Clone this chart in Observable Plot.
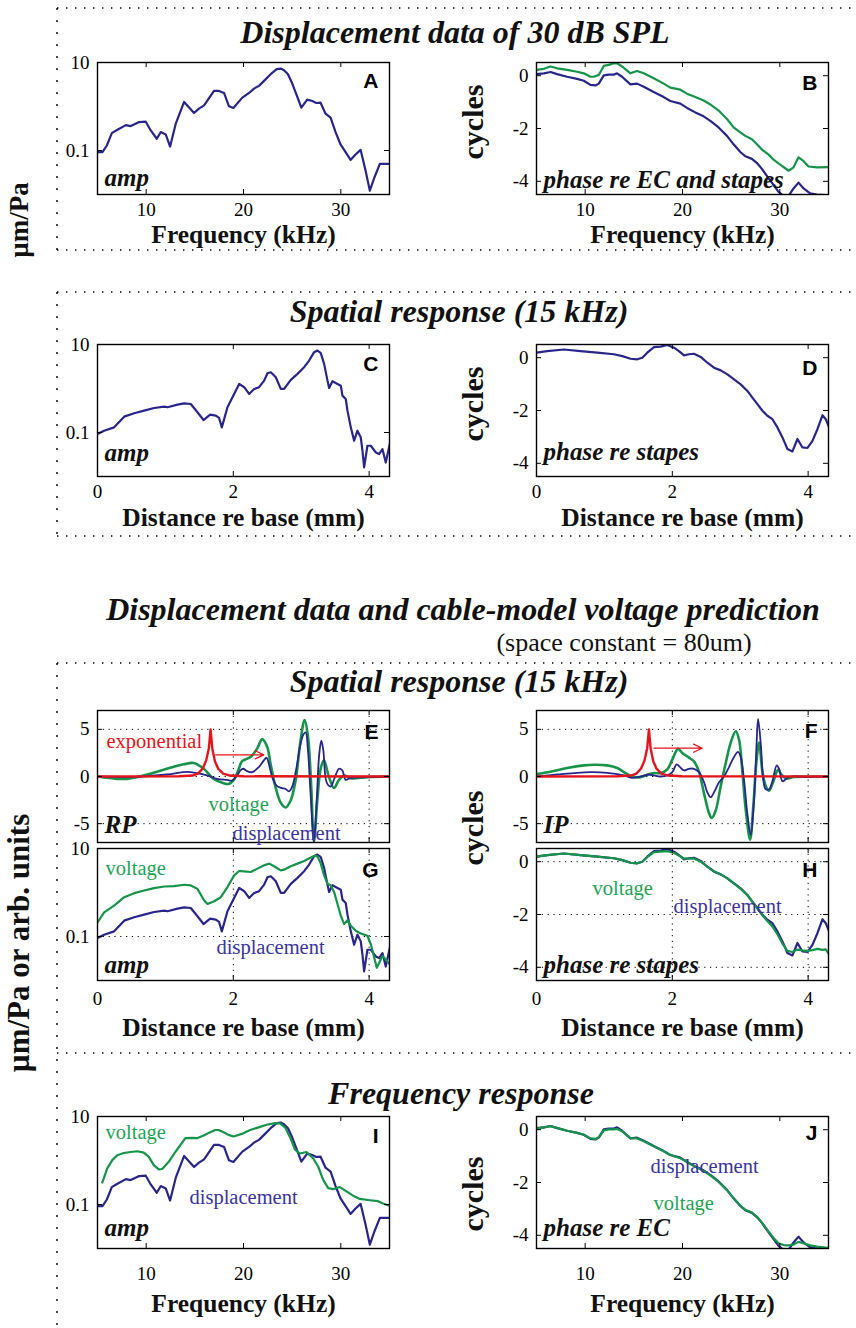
<!DOCTYPE html>
<html>
<head>
<meta charset="utf-8">
<script src="https://cdn.jsdelivr.net/npm/d3@7"></script>
<script src="https://cdn.jsdelivr.net/npm/@observablehq/plot@0.6"></script>
<style>
  html, body { margin: 0; padding: 0; background: #fff; }
  #fig { position: relative; width: 856px; height: 1328px; overflow: hidden; background: #fff; }
</style>
</head>
<body>
<div id="fig"></div>
<script>
// ---------- tick values ----------
const freqTicks = [10, 20, 30];
const distTicks = [0, 2, 4];
const ampTicks = [0.1, 10];
const phaseTicks = [0, -2, -4];
const waveTicks = [5, 0, -5];

// ---------- frequency response (kHz, um/Pa) ----------
const ampFreqDisp = [[5.0,0.092],[5.51,0.092],[5.96,0.130],[6.47,0.248],[7.05,0.296],[7.91,0.378],[8.42,0.359],[9.28,0.443],[9.96,0.451],[10.47,0.286],[11.09,0.185],[11.5,0.262],[12.01,0.232],[12.46,0.123],[13.04,0.406],[13.9,1.27],[14.92,0.711],[15.43,0.893],[15.95,1.06],[16.97,2.26],[17.49,2.26],[18.0,2.03],[18.51,1.01],[18.96,0.925],[19.88,1.59],[20.57,2.03],[21.08,2.55],[21.59,2.94],[22.11,3.82],[22.79,5.42],[23.41,7.05],[23.82,7.29],[24.16,6.68],[24.57,5.42],[25.01,3.32],[25.53,1.65],[25.94,0.94],[26.55,1.43],[27.07,1.33],[27.48,1.20],[27.92,1.22],[28.43,0.687],[28.95,0.556],[29.46,0.262],[29.97,0.137],[30.49,0.092],[31.0,0.0612],[31.51,0.0811],[32.03,0.1035],[32.54,0.035],[32.98,0.0122],[33.46,0.0247],[34.01,0.0497],[35.0,0.0497]];
const ampFreqVolt = [[5.49,0.316],[6.0,0.662],[6.52,1.02],[7.03,1.32],[7.71,1.48],[8.40,1.56],[9.08,1.62],[9.76,1.51],[10.27,1.21],[10.78,0.787],[11.30,0.629],[11.64,0.640],[12.32,0.933],[13.0,1.56],[14.03,3.21],[14.71,3.27],[15.22,3.21],[15.9,3.69],[16.42,4.24],[17.1,4.94],[17.44,4.94],[17.95,4.38],[18.46,3.82],[18.98,3.51],[19.83,4.02],[20.68,4.94],[21.54,5.67],[22.39,6.50],[23.24,7.09],[23.75,6.97],[24.27,5.67],[24.78,3.39],[25.29,1.76],[25.8,1.44],[26.48,1.56],[27.17,1.11],[27.68,0.721],[28.19,0.363],[28.7,0.236],[29.22,0.224],[29.9,0.249],[30.58,0.199],[31.26,0.159],[31.95,0.134],[32.97,0.125],[33.82,0.119],[34.33,0.105],[34.91,0.095]];

// phase (cycles) re ear canal, re stapes, and model voltage re ear canal
const phaseFreqEC = [[5.0,0.06],[5.75,0.09],[6.44,0.14],[7.12,0.06],[8.15,-0.04],[9.17,-0.12],[9.86,-0.19],[10.54,-0.35],[11.06,-0.37],[11.40,-0.3],[11.91,0.01],[12.42,0.04],[12.94,0.04],[13.28,0.09],[13.79,-0.04],[14.65,-0.33],[15.33,-0.3],[16.02,-0.42],[17.04,-0.62],[18.07,-0.81],[18.75,-0.96],[19.78,-1.06],[20.46,-1.22],[21.32,-1.39],[22.17,-1.54],[22.86,-1.71],[23.71,-1.96],[24.57,-2.28],[25.25,-2.6],[25.94,-2.89],[26.45,-3.05],[27.13,-3.15],[27.65,-3.31],[28.16,-3.53],[28.85,-3.89],[29.36,-4.14],[29.87,-4.4],[30.38,-4.55],[30.9,-4.55],[31.41,-4.27],[31.92,-4.05],[32.44,-4.27],[33.12,-4.46],[33.81,-4.5],[35.0,-4.53]];
const phaseFreqStapes = [[5.0,0.22],[5.75,0.26],[6.44,0.35],[7.12,0.28],[8.15,0.22],[9.17,0.15],[9.86,0.09],[10.54,-0.04],[10.88,-0.04],[11.4,0.03],[11.91,0.37],[12.42,0.41],[12.94,0.47],[13.28,0.47],[13.79,0.35],[14.65,0.09],[15.33,0.18],[16.02,0.09],[17.04,-0.1],[18.07,-0.3],[18.75,-0.45],[19.78,-0.53],[20.46,-0.68],[21.32,-0.81],[22.17,-0.94],[22.86,-1.09],[23.71,-1.32],[24.57,-1.64],[25.25,-1.96],[25.94,-2.15],[26.45,-2.28],[27.13,-2.41],[27.65,-2.6],[28.16,-2.8],[28.85,-2.99],[29.36,-3.18],[30.04,-3.37],[30.9,-3.6],[31.41,-3.47],[31.92,-3.09],[32.44,-3.24],[32.95,-3.44],[33.81,-3.47],[35.0,-3.46]];
const phaseFreqVolt = [[5.0,0.04],[5.75,0.09],[6.44,0.13],[7.12,0.07],[8.15,-0.04],[9.17,-0.12],[9.86,-0.19],[10.54,-0.33],[11.06,-0.35],[11.40,-0.28],[11.91,-0.03],[12.42,0.01],[12.94,0.01],[13.28,0.03],[13.79,-0.06],[14.65,-0.32],[15.33,-0.33],[16.02,-0.44],[17.04,-0.63],[18.07,-0.82],[18.75,-0.96],[19.78,-1.08],[20.46,-1.23],[21.32,-1.4],[22.17,-1.56],[22.86,-1.73],[23.71,-1.98],[24.57,-2.29],[25.25,-2.6],[25.94,-2.87],[26.45,-3.03],[27.13,-3.14],[27.65,-3.3],[28.16,-3.52],[28.85,-3.86],[29.36,-4.1],[29.87,-4.3],[30.38,-4.37],[30.9,-4.38],[31.41,-4.35],[31.92,-4.25],[32.44,-4.3],[33.12,-4.38],[33.81,-4.43],[35.0,-4.48]];

// ---------- spatial response at 15 kHz (mm re base) ----------
const ampDistDisp = [[0,0.092],[0.098,0.110],[0.245,0.131],[0.393,0.229],[0.540,0.273],[0.687,0.314],[0.834,0.361],[0.982,0.387],[1.031,0.374],[1.178,0.430],[1.276,0.461],[1.374,0.445],[1.472,0.288],[1.561,0.192],[1.659,0.254],[1.742,0.241],[1.791,0.214],[1.831,0.131],[1.914,0.374],[2.012,0.752],[2.086,1.27],[2.160,1.07],[2.233,0.752],[2.307,0.977],[2.380,1.07],[2.454,1.51],[2.503,2.22],[2.552,2.34],[2.626,1.80],[2.699,0.977],[2.748,0.977],[2.847,1.57],[2.945,2.15],[3.043,3.05],[3.117,4.32],[3.190,6.69],[3.239,7.30],[3.288,6.35],[3.337,3.63],[3.387,1.51],[3.411,1.03],[3.460,1.46],[3.534,1.27],[3.583,1.16],[3.607,0.689],[3.656,0.578],[3.681,0.314],[3.730,0.131],[3.779,0.065],[3.828,0.110],[3.877,0.0775],[3.902,0.0385],[3.926,0.0161],[3.975,0.050],[4.025,0.050],[4.098,0.0352],[4.147,0.0323],[4.196,0.042],[4.245,0.0208],[4.304,0.0546]];
const ampDistVolt = [[0,0.209],[0.098,0.355],[0.245,0.504],[0.393,0.782],[0.540,0.966],[0.687,1.11],[0.834,1.26],[0.982,1.37],[1.129,1.40],[1.276,1.50],[1.374,1.45],[1.472,1.21],[1.571,0.656],[1.620,0.550],[1.718,0.633],[1.816,0.782],[1.914,1.33],[2.012,2.45],[2.086,3.08],[2.160,3.03],[2.258,2.92],[2.356,3.49],[2.454,4.15],[2.528,4.53],[2.601,3.94],[2.699,3.19],[2.748,3.30],[2.847,3.94],[2.945,4.53],[3.043,5.22],[3.141,6.22],[3.190,6.79],[3.239,6.67],[3.288,4.53],[3.337,2.45],[3.387,1.58],[3.436,1.45],[3.485,1.02],[3.534,0.550],[3.583,0.297],[3.632,0.191],[3.681,0.236],[3.730,0.175],[3.804,0.135],[3.877,0.117],[3.975,0.104],[4.025,0.0667],[4.113,0.0195],[4.196,0.0360],[4.245,0.0303],[4.304,0.0232]];
const phaseDistDisp = [[0,0.19],[0.157,0.25],[0.403,0.31],[0.649,0.25],[0.894,0.19],[1.140,0.13],[1.263,0.06],[1.386,-0.04],[1.484,-0.06],[1.558,0.0],[1.631,0.19],[1.730,0.40],[1.828,0.42],[1.926,0.48],[2.025,0.38],[2.098,0.25],[2.172,0.09],[2.246,0.13],[2.319,0.15],[2.418,0.03],[2.516,-0.19],[2.614,-0.38],[2.713,-0.48],[2.811,-0.63],[2.909,-0.82],[3.007,-1.01],[3.106,-1.26],[3.179,-1.51],[3.253,-1.76],[3.327,-2.01],[3.400,-2.20],[3.474,-2.33],[3.548,-2.64],[3.622,-3.02],[3.695,-3.46],[3.769,-3.55],[3.843,-3.08],[3.916,-3.40],[3.990,-3.42],[4.064,-3.15],[4.138,-2.70],[4.211,-2.18],[4.260,-2.33],[4.310,-2.64]];
const phaseDistVolt = [[0,0.19],[0.157,0.25],[0.403,0.31],[0.649,0.25],[0.894,0.19],[1.14,0.13],[1.263,0.06],[1.386,-0.04],[1.484,-0.06],[1.558,0.0],[1.631,0.17],[1.73,0.36],[1.828,0.38],[1.926,0.40],[2.025,0.33],[2.098,0.23],[2.172,0.12],[2.246,0.12],[2.319,0.12],[2.418,0.0],[2.516,-0.19],[2.614,-0.36],[2.713,-0.48],[2.811,-0.63],[2.909,-0.83],[3.007,-1.03],[3.106,-1.27],[3.179,-1.52],[3.253,-1.77],[3.327,-2.03],[3.40,-2.25],[3.474,-2.45],[3.548,-2.75],[3.622,-3.1],[3.695,-3.38],[3.769,-3.42],[3.843,-3.33],[3.916,-3.36],[3.99,-3.38],[4.064,-3.35],[4.138,-3.30],[4.211,-3.34],[4.26,-3.32],[4.31,-3.52]];

// real part (RP) and imaginary part (IP) of the spatial pattern, arb. units
const rpDisp = [[0,0],[0.531,-0.04],[1.023,0.21],[1.318,0.5],[1.466,0.36],[1.613,0.11],[1.761,-0.25],[1.908,-0.36],[1.982,-0.43],[2.056,0.11],[2.105,0.64],[2.145,0.82],[2.204,0.57],[2.277,0.46],[2.376,1.0],[2.450,1.71],[2.489,2.0],[2.523,1.36],[2.573,-0.07],[2.636,-0.96],[2.705,-1.21],[2.769,-1.32],[2.818,-1.57],[2.868,-1.07],[2.932,1.0],[2.981,3.14],[3.030,4.43],[3.065,4.68],[3.099,2.79],[3.138,-1.86],[3.187,-6.9],[3.227,-2.57],[3.266,2.43],[3.296,3.79],[3.325,2.79],[3.374,-0.61],[3.433,-1.07],[3.492,-0.14],[3.556,0.82],[3.605,0.64],[3.655,-0.36],[3.728,-0.14],[3.974,-0.07],[4.304,0]];
const rpVolt = [[0,0],[0.285,-0.25],[0.433,-0.25],[0.580,-0.07],[0.777,0.29],[1.023,0.82],[1.269,1.29],[1.417,1.43],[1.564,0.82],[1.712,-0.25],[1.859,-0.71],[1.933,-0.79],[2.007,-0.36],[2.081,0.82],[2.130,1.64],[2.253,2.07],[2.351,2.96],[2.425,3.96],[2.499,3.14],[2.548,1.36],[2.622,-1.14],[2.696,-2.75],[2.769,-3.29],[2.843,-2.57],[2.917,-0.43],[2.991,3.86],[3.050,6.0],[3.099,4.29],[3.148,-1.14],[3.187,-6.9],[3.237,-2.57],[3.286,0.82],[3.335,1.71],[3.409,-0.07],[3.483,-1.21],[3.556,-0.36],[3.630,0.11],[3.728,-0.18],[3.974,-0.07],[4.304,0]];
const rpExp = [[0,0],[1.2,0.02],[1.4,0.1],[1.48,0.3],[1.55,0.85],[1.6,1.7],[1.64,3.0],[1.665,5.0],[1.69,3.0],[1.73,1.6],[1.78,0.8],[1.85,0.3],[1.95,0.1],[2.15,0.02],[4.3,0]];
const ipDisp = [[0,0],[0.305,0.21],[0.550,0.36],[0.796,0.46],[1.042,0.39],[1.287,0.11],[1.410,-0.14],[1.533,0.0],[1.656,0.21],[1.730,0.11],[1.828,0.0],[1.926,0.11],[2.0,0.46],[2.064,1.29],[2.113,1.0],[2.172,0.64],[2.246,0.82],[2.319,0.82],[2.393,0.46],[2.467,-0.61],[2.516,-1.68],[2.565,-2.21],[2.614,-1.68],[2.688,-0.61],[2.762,0.0],[2.835,1.0],[2.909,2.07],[2.968,2.61],[3.007,2.07],[3.057,-0.43],[3.106,-4.0],[3.155,-6.2],[3.204,-2.5],[3.238,3.0],[3.263,6.1],[3.302,3.5],[3.342,-0.5],[3.376,-1.36],[3.425,-1.36],[3.474,-0.5],[3.538,1.18],[3.573,0.8],[3.622,-0.5],[3.671,-0.3],[3.744,0.0],[3.990,-0.05],[4.310,0.0]];
const ipVolt = [[0,0.25],[0.206,0.5],[0.452,0.9],[0.698,1.18],[0.845,1.25],[1.042,1.18],[1.189,0.9],[1.312,0.36],[1.410,0.0],[1.533,-0.07],[1.631,0.18],[1.730,0.36],[1.828,0.36],[1.926,0.75],[2.0,1.8],[2.084,2.93],[2.147,2.5],[2.246,2.0],[2.319,1.6],[2.393,0.5],[2.467,-1.8],[2.541,-3.9],[2.580,-4.4],[2.639,-3.6],[2.713,-1.0],[2.786,1.4],[2.860,3.6],[2.934,4.8],[2.983,3.9],[3.032,0.5],[3.081,-3.5],[3.145,-6.7],[3.194,-3.0],[3.238,1.5],[3.278,3.6],[3.327,0.5],[3.376,-1.0],[3.425,-1.5],[3.489,-0.5],[3.558,0.7],[3.607,0.2],[3.671,-0.2],[3.794,-0.05],[4.310,0.0]];
const ipExp = [[0,0],[1.19,0.02],[1.39,0.1],[1.47,0.3],[1.54,0.85],[1.59,1.7],[1.63,3.0],[1.656,5.0],[1.68,3.0],[1.72,1.6],[1.77,0.8],[1.84,0.3],[1.94,0.1],[2.14,0.02],[4.3,0]];

// travel direction of the exponential, drawn as arrows
const arrowRP = [{x1: 1.74, x2: 2.45, y: 2.3}];
const arrowIP = [{x1: 1.73, x2: 2.44, y: 3.0}];

// ---------- text ----------
const titles = ["Displacement data of 30 dB SPL", "Spatial response (15 kHz)", "Displacement data and cable-model voltage prediction", "(space constant = 80um)", "Spatial response (15 kHz)", "Frequency response"];
const yTitles = ["\u00b5m/Pa", "\u00b5m/Pa or arb. units", "cycles"];
const xTitles = ["Frequency (kHz)", "Distance re base (mm)"];

// ---------- styling ----------
const BLUE = "#29268a", GREEN = "#15944a", RED = "#e3141b";
const BLUE_T = "#3a349e", GREEN_T = "#1fa355";
const SERIF = "Liberation Serif, Times New Roman, serif";
const SANS = "Liberation Sans, Arial, sans-serif";
const FW = 292, FH = 132;                       // frame size of every panel
const M = {l: 80, r: 14, t: 14, b: 80};          // room around each frame

const fig = document.getElementById("fig");

function panel(o) {
  const marks = [];
  if (o.grid) {
    marks.push(Plot.ruleX(o.gridX, {x: d => d, stroke: "#000", strokeWidth: 1, strokeDasharray: "1.2,4.6"}));
    marks.push(Plot.ruleY(o.gridY, {y: d => d, stroke: "#000", strokeWidth: 1, strokeDasharray: "1.2,4.6"}));
  }
  for (const s of o.series) {
    marks.push(Plot.line(s.data, {x: d => d[0], y: d => d[1], stroke: s.color, strokeWidth: s.width || 2.2,
      curve: s.curve || "linear", clip: true, strokeLinejoin: "round"}));
  }
  if (o.arrows) {
    marks.push(Plot.arrow(o.arrows, {x1: "x1", x2: "x2", y1: "y", y2: "y", stroke: RED, strokeWidth: 1.3, headLength: 11, headAngle: 50}));
  }
  marks.push(Plot.frame({stroke: "#000", strokeWidth: 1.4}));
  // inward tick marks on all four sides
  marks.push(
    Plot.tickX(o.xTicks, {x: d => d, insetBottom: FH - 5, stroke: "#000"}),
    Plot.tickX(o.xTicks, {x: d => d, insetTop: FH - 5, stroke: "#000"}),
    Plot.tickY(o.yTicks, {y: d => d, insetRight: FW - 5, stroke: "#000"}),
    Plot.tickY(o.yTicks, {y: d => d, insetLeft: FW - 5, stroke: "#000"})
  );
  if (o.xLabels) {
    marks.push(Plot.axisX(o.xTicks, {tickSize: 0, tickPadding: o.xPad, tickFormat: d => String(d), label: null,
      fontSize: 19, fontFamily: SERIF}));
  }
  marks.push(Plot.axisY(o.yTicks, {tickSize: 0, tickPadding: 8, tickFormat: d => String(d), label: null,
    fontSize: 19, fontFamily: SERIF}));
  // panel letter
  marks.push(Plot.text([o.letter], {text: d => d, frameAnchor: "top-right", dx: -11, dy: o.letterDy,
    textAnchor: "end", lineAnchor: "bottom", fontFamily: SANS, fontWeight: "bold", fontSize: 21, fill: "#000"}));
  // corner tag
  marks.push(Plot.text([o.tag], {text: d => d, frameAnchor: "bottom-left", dx: 7, dy: -o.tagDy,
    textAnchor: "start", lineAnchor: "bottom", fontFamily: SERIF, fontWeight: "bold", fontStyle: "italic", fontSize: 25, fill: "#111"}));
  // series labels
  for (const l of (o.labels || [])) {
    marks.push(Plot.text([l.text], {text: d => d, frameAnchor: "top-left", dx: l.dx, dy: l.dy,
      textAnchor: "start", lineAnchor: "bottom", fontFamily: SERIF, fontSize: 20.5, fill: l.color}));
  }
  if (o.xTitle) {
    marks.push(Plot.text([o.xTitle], {text: d => d, frameAnchor: "bottom", dy: o.xTitleDy, lineAnchor: "bottom",
      fontFamily: SERIF, fontWeight: "bold", fontSize: 25.5, fill: "#111"}));
  }
  const svg = Plot.plot({
    width: FW + M.l + M.r, height: FH + M.t + M.b,
    marginLeft: M.l, marginRight: M.r, marginTop: M.t, marginBottom: M.b,
    x: {domain: o.xDomain, ...(o.xLabels ? {} : {axis: null})},
    y: {type: o.yType || "linear", domain: o.yDomain},
    style: {fontFamily: SERIF, fontSize: "19px", color: "#000", background: "transparent", overflow: "visible"},
    marks
  });
  svg.style.position = "absolute";
  svg.style.left = (o.left - M.l) + "px";
  svg.style.top = (o.top - M.t) + "px";
  fig.appendChild(svg);
}

const L = 97, R = 536;   // frame left edges of the two columns

panel({letter: "A", left: L, top: 62, xDomain: [5, 35], yType: "log", yDomain: [0.01, 10], xTicks: freqTicks, yTicks: ampTicks,
  series: [{data: ampFreqDisp, color: BLUE}], tag: "amp", tagDy: 9, letterDy: 25, xLabels: true, xPad: 8, xTitle: xTitles[0], xTitleDy: 48});
panel({letter: "B", left: R, top: 62, xDomain: [5, 35], yDomain: [-4.5, 0.5], xTicks: freqTicks, yTicks: phaseTicks,
  series: [{data: phaseFreqStapes, color: GREEN}, {data: phaseFreqEC, color: BLUE}], tag: "phase re EC and stapes", tagDy: 7, letterDy: 27, xLabels: true, xPad: 8, xTitle: xTitles[0], xTitleDy: 48});
panel({letter: "C", left: L, top: 344, xDomain: [0, 4.3], yType: "log", yDomain: [0.01, 10], xTicks: distTicks, yTicks: ampTicks,
  series: [{data: ampDistDisp, color: BLUE}], tag: "amp", tagDy: 16, letterDy: 26, xLabels: true, xPad: 8, xTitle: xTitles[1], xTitleDy: 49});
panel({letter: "D", left: R, top: 344, xDomain: [0, 4.3], yDomain: [-4.5, 0.5], xTicks: distTicks, yTicks: phaseTicks,
  series: [{data: phaseDistDisp, color: BLUE}], tag: "phase re stapes", tagDy: 17, letterDy: 30, xLabels: true, xPad: 8, xTitle: xTitles[1], xTitleDy: 49});

panel({letter: "E", left: L, top: 710, xDomain: [0, 4.3], yDomain: [-7, 7], xTicks: distTicks, yTicks: waveTicks,
  grid: true, gridX: [2, 4], gridY: waveTicks,
  series: [{data: rpVolt, color: GREEN, width: 2.6, curve: "catmull-rom"}, {data: rpDisp, color: BLUE, width: 1.8, curve: "catmull-rom"}, {data: rpExp, color: RED, width: 2.4}],
  arrows: arrowRP, tag: "RP", tagDy: 10, letterDy: 28, xLabels: false,
  labels: [{text: "exponential", color: RED, dx: 9, dy: 37}, {text: "voltage", color: GREEN_T, dx: 111, dy: 100}, {text: "displacement", color: BLUE_T, dx: 135, dy: 129}]});
panel({letter: "F", left: R, top: 710, xDomain: [0, 4.3], yDomain: [-7, 7], xTicks: distTicks, yTicks: waveTicks,
  grid: true, gridX: [2, 4], gridY: waveTicks,
  series: [{data: ipVolt, color: GREEN, width: 2.6, curve: "catmull-rom"}, {data: ipDisp, color: BLUE, width: 1.8, curve: "catmull-rom"}, {data: ipExp, color: RED, width: 2.4}],
  arrows: arrowIP, tag: "IP", tagDy: 10, letterDy: 27, xLabels: false});

panel({letter: "G", left: L, top: 848, xDomain: [0, 4.3], yType: "log", yDomain: [0.01, 10], xTicks: distTicks, yTicks: ampTicks,
  grid: true, gridX: [2, 4], gridY: [0.1],
  series: [{data: ampDistDisp, color: BLUE}, {data: ampDistVolt, color: GREEN}], tag: "amp", tagDy: 8, letterDy: 28, xLabels: true, xPad: 11, xTitle: xTitles[1], xTitleDy: 55,
  labels: [{text: "voltage", color: GREEN_T, dx: 8, dy: 26}, {text: "displacement", color: BLUE_T, dx: 119, dy: 105}]});
panel({letter: "H", left: R, top: 848, xDomain: [0, 4.3], yDomain: [-4.5, 0.5], xTicks: distTicks, yTicks: phaseTicks,
  grid: true, gridX: [2, 4], gridY: phaseTicks,
  series: [{data: phaseDistDisp, color: BLUE}, {data: phaseDistVolt, color: GREEN}], tag: "phase re stapes", tagDy: 8, letterDy: 28, xLabels: true, xPad: 11, xTitle: xTitles[1], xTitleDy: 55,
  labels: [{text: "voltage", color: GREEN_T, dx: 56, dy: 46}, {text: "displacement", color: BLUE_T, dx: 137, dy: 64}]});

panel({letter: "I", left: L, top: 1116, xDomain: [5, 35], yType: "log", yDomain: [0.01, 10], xTicks: freqTicks, yTicks: ampTicks,
  series: [{data: ampFreqDisp, color: BLUE}, {data: ampFreqVolt, color: GREEN}], tag: "amp", tagDy: 13, letterDy: 26, xLabels: true, xPad: 18, xTitle: xTitles[0], xTitleDy: 63,
  labels: [{text: "voltage", color: GREEN_T, dx: 8, dy: 22}, {text: "displacement", color: BLUE_T, dx: 92, dy: 87}]});
panel({letter: "J", left: R, top: 1116, xDomain: [5, 35], yDomain: [-4.5, 0.5], xTicks: freqTicks, yTicks: phaseTicks,
  series: [{data: phaseFreqEC, color: BLUE}, {data: phaseFreqVolt, color: GREEN}], tag: "phase re EC", tagDy: 13, letterDy: 23, xLabels: true, xPad: 18, xTitle: xTitles[0], xTitleDy: 63,
  labels: [{text: "displacement", color: BLUE_T, dx: 114, dy: 56}, {text: "voltage", color: GREEN_T, dx: 117, dy: 93}]});

// ---------- figure furniture: dotted section boxes, headings, shared y titles ----------
const ov = d3.create("svg").attr("width", 856).attr("height", 1328)
  .style("position", "absolute").style("left", "0px").style("top", "0px");
fig.insertBefore(ov.node(), fig.firstChild);

const dots = ov.append("g").attr("stroke", "#000").attr("stroke-width", 1.4).attr("fill", "none");
for (const y of [8, 250, 292, 536, 663, 1053]) {
  dots.append("line").attr("x1", 57).attr("x2", 856).attr("y1", y).attr("y2", y).attr("stroke-dasharray", "1.4,7.6");
}
for (const [a, b] of [[8, 250], [292, 536], [663, 1328]]) {
  dots.append("line").attr("x1", 57).attr("x2", 57).attr("y1", a).attr("y2", b).attr("stroke-dasharray", "2,10");
}

const heading = (t, x, y, size, italicBold) => ov.append("text")
  .attr("x", x).attr("y", y).attr("text-anchor", "middle")
  .attr("font-family", SERIF).attr("font-size", size)
  .attr("font-weight", italicBold ? "bold" : "normal").attr("font-style", italicBold ? "italic" : "normal")
  .attr("fill", "#111").text(t);
heading(titles[0], 455, 43, 32, true);
heading(titles[1], 459, 322, 32, true);
heading(titles[2], 463, 620, 32, true);
heading(titles[3], 624, 651, 26, false);
heading(titles[4], 459, 692, 32, true);
heading(titles[5], 461, 1104, 32, true);

const yTitle = (t, x, y, size) => ov.append("text")
  .attr("transform", `translate(${x},${y}) rotate(-90)`).attr("text-anchor", "middle")
  .attr("font-family", SERIF).attr("font-size", size).attr("font-weight", "bold").attr("fill", "#111").text(t);
yTitle(yTitles[0], 28, 220, 27);
yTitle(yTitles[1], 29, 943, 31);
yTitle(yTitles[2], 483, 122, 30);
yTitle(yTitles[2], 483, 404, 30);
yTitle(yTitles[2], 483, 828, 30);
yTitle(yTitles[2], 483, 1194, 30);
</script>
</body>
</html>
